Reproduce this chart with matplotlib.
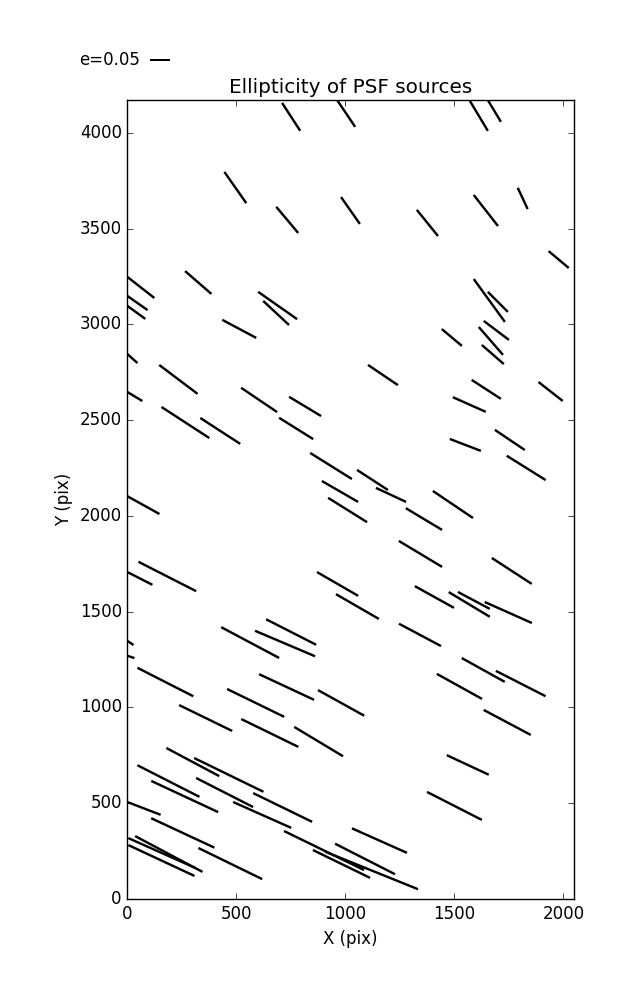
import numpy as np
import matplotlib
matplotlib.use('Agg')
import matplotlib.pyplot as plt

# PSF source positions (pix), ellipticity and position angle (deg)
x = [751, 1003, 1612, 1683, 495, 733, 1023, 1376, 1644, 1813,
     1978, 62, 325, 689, 682, 46, 41, 513, 23, 234,
     604, 815, 34, 266, 426, 774, 934, 975, 73, 1010,
     1660, 1699, 1488, 1692, 1667, 1676, 1172, 1646, 1941, 1568,
     1754, 1550, 1829, 1124, 1209, 1493, 183, 57, 964, 1055,
     751, 723, 563, 14, 16, 174, 730, 588, 980, 1360,
     1344, 1763, 1408, 1568, 1589, 1747, 1342, 1632, 1804, 1523,
     359, 653, 877, 300, 465, 188, 263, 446, 712, 76,
     618, 254, 902, 982, 1120, 1090, 472, 190, 158, 156,
     1156, 1742, 1561, 1500]
y = [4084, 4102, 4089, 4115, 3715, 3546, 3595, 3530, 3595, 3658,
     3339, 3193, 3219, 3099, 3060, 3112, 3063, 2977, 2822, 2713,
     2606, 2572, 2624, 2488, 2444, 2457, 2261, 2128, 2057, 2031,
     3125, 3118, 2932, 2969, 2914, 2843, 2736, 2661, 2650, 2582,
     2397, 2371, 2251, 2188, 2110, 2060, 1684, 1674, 1645, 1527,
     1394, 1334, 1339, 1337, 1264, 1133, 1107, 1024, 1024, 1984,
     1802, 1713, 1577, 1538, 1559, 1496, 1379, 1196, 1125, 1110,
     945, 867, 822, 715, 648, 616, 535, 556, 478, 473,
     439, 345, 253, 183, 149, 209, 185, 235, 240, 201,
     305, 922, 700, 486]
e = [0.081, 0.079, 0.085, 0.062, 0.093, 0.083, 0.080, 0.082, 0.096, 0.057,
     0.064, 0.083, 0.085, 0.116, 0.086, 0.060, 0.054, 0.094, 0.033, 0.117,
     0.106, 0.091, 0.043, 0.139, 0.116, 0.098, 0.120, 0.102, 0.090, 0.112,
     0.129, 0.069, 0.064, 0.077, 0.090, 0.071, 0.088, 0.085, 0.075, 0.088,
     0.088, 0.081, 0.112, 0.090, 0.081, 0.118, 0.158, 0.069, 0.116, 0.121,
     0.137, 0.159, 0.160, 0.018, 0.018, 0.153, 0.148, 0.155, 0.129, 0.103,
     0.123, 0.116, 0.109, 0.117, 0.088, 0.126, 0.116, 0.120, 0.136, 0.126,
     0.144, 0.155, 0.139, 0.146, 0.188, 0.170, 0.180, 0.156, 0.160, 0.087,
     0.155, 0.170, 0.217, 0.155, 0.244, 0.164, 0.173, 0.186, 0.179, 0.178,
     0.147, 0.130, 0.113, 0.150]
theta = [-57, -56, -59, -59, -55, -50, -55, -51, -52, -65,
         -40, -38, -41, -35, -43, -35, -36, -28, -42, -37,
         -34, -31, -31, -33, -33, -32, -32, -30, -29, -32,
         -54, -45, -40, -37, -49, -41, -34, -33, -38, -24,
         -34, -21, -32, -33, -25, -34, -27, -27, -30, -30,
         -27, -23, -28, -34, -18, -27, -25, -26, -29, -31,
         -31, -33, -29, -31, -28, -24, -28, -29, -27, -29,
         -26, -26, -31, -28, -26, -27, -25, -27, -26, -21,
         -24, -25, -26, -26, -22, -27, -26, -28, -24, -25,
         -24, -28, -25, -27]

plt.style.use('classic')
plt.rcParams['font.family'] = ['DejaVu Sans']

x = np.array(x)
y = np.array(y)
e = np.array(e)
th = np.deg2rad(np.array(theta))
u = e * np.cos(th)
v = e * np.sin(th)

fig = plt.figure(figsize=(6.37, 10), dpi=100, facecolor='white')
ax = fig.add_axes([0.2, 0.101, 0.701, 0.799])
ax.set_facecolor('white')

q = ax.quiver(x, y, u, v, angles='uv', pivot='middle',
              scale_units='inches', scale=0.05 / 0.205,
              units='dots', width=2.4,
              headwidth=0, headlength=0, headaxislength=0,
              color='black')
ax.quiverkey(q, 0.2355, 0.94, 0.05, 'e=0.05', labelpos='W',
             coordinates='figure', fontproperties={'size': 12})

ax.set_xlim(0, 2048)
ax.set_ylim(0, 4172)
ax.set_xticks([0, 500, 1000, 1500, 2000])
ax.set_yticks([0, 500, 1000, 1500, 2000, 2500, 3000, 3500, 4000])
ax.set_xlabel('X (pix)')
ax.set_ylabel('Y (pix)')
ax.set_title('Ellipticity of PSF sources')

fig.savefig('out.png', dpi=100, facecolor='white')
